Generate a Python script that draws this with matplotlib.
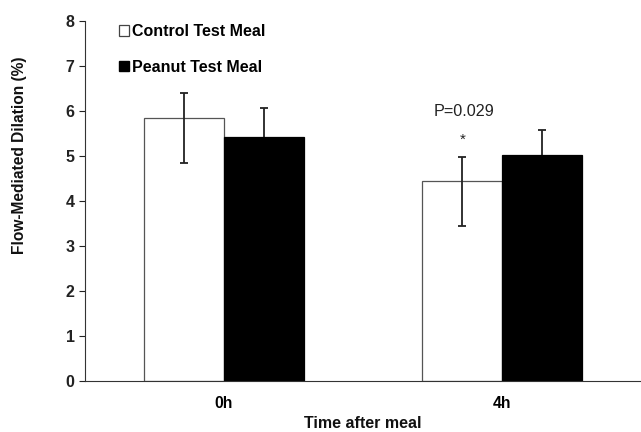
import matplotlib
matplotlib.use("Agg")
import matplotlib.pyplot as plt
from matplotlib.patches import Patch
import numpy as np

categories = ["0h", "4h"]
control = [5.84, 4.44]
control_err_low = [1.00, 1.00]
control_err_high = [0.56, 0.54]
peanut = [5.42, 5.02]
peanut_err_low = [0.64, 0.56]
peanut_err_high = [0.65, 0.56]
series_labels = ["Control Test Meal", "Peanut Test Meal"]
yticks = [0, 1, 2, 3, 4, 5, 6, 7, 8]

plt.rcParams['font.family'] = ['Liberation Sans', 'DejaVu Sans']

W, H = 641, 432
fig = plt.figure(figsize=(W / 100, H / 100), dpi=100)
ax = fig.add_axes([85 / W, 1 - 381 / H, (W - 85) / W, 360 / H])

x = np.arange(len(categories))
w = 0.286
ax.bar(x - w/2, control, w, color='white', edgecolor='#555555', linewidth=0.9, zorder=2)
ax.bar(x + w/2, peanut, w, color='black', edgecolor='black', linewidth=0.9, zorder=2)
ekw = dict(fmt='none', ecolor='#222222', elinewidth=1.3, capsize=3.2, capthick=1.3)
ax.errorbar(x - w/2, control, yerr=[control_err_low, control_err_high], zorder=3, **ekw)
ax.errorbar(x + w/2, peanut, yerr=[peanut_err_low, peanut_err_high], zorder=1.5, **ekw)

ax.set_xlim(-0.5, 1.5)
ax.set_ylim(0, 8)
ax.set_yticks(yticks)
ax.set_yticklabels([str(t) for t in yticks], fontsize=11.5, fontweight='bold')
ax.set_xticks(x)
ax.set_xticklabels(categories, fontsize=11.3, fontweight='bold')
ax.tick_params(axis='x', length=0, pad=11)
ax.tick_params(axis='y', length=4, width=0.8, direction='out', pad=3.5, colors='#222222')
for s in ['top', 'right']:
    ax.spines[s].set_visible(False)
ax.spines['left'].set_linewidth(0.8)
ax.spines['bottom'].set_linewidth(0.8)
ax.spines['left'].set_color('#333333')
ax.spines['bottom'].set_color('#333333')

fig.text(20 / W, 1 - 155 / H, "Flow-Mediated Dilation (%)", rotation=90,
         ha='center', va='center', fontsize=11.2, fontweight='bold', color='#111111')
fig.text(363 / W, 1 - 423 / H, "Time after meal", ha='center', va='center',
         fontsize=11.5, fontweight='bold', color='#111111')

ax.text(x[1] - w/2 + 0.007, 6.0, "P=0.029", ha='center', va='center', fontsize=11.6, color='#222222')
ax.text(x[1] - w/2, 5.36, "*", ha='center', va='center', fontsize=11, color='#222222')

handles = [Patch(facecolor='white', edgecolor='#444444', linewidth=0.9),
           Patch(facecolor='black', edgecolor='black')]
leg = ax.legend(handles, series_labels, loc='upper left', bbox_to_anchor=(34 / 556, 1 - 3 / 360),
                frameon=False, handlelength=0.62, handleheight=0.62, handletextpad=0.22,
                labelspacing=1.3, borderpad=0, borderaxespad=0,
                prop={'weight': 'bold', 'size': 11.5})

fig.savefig("out.png", dpi=100)
